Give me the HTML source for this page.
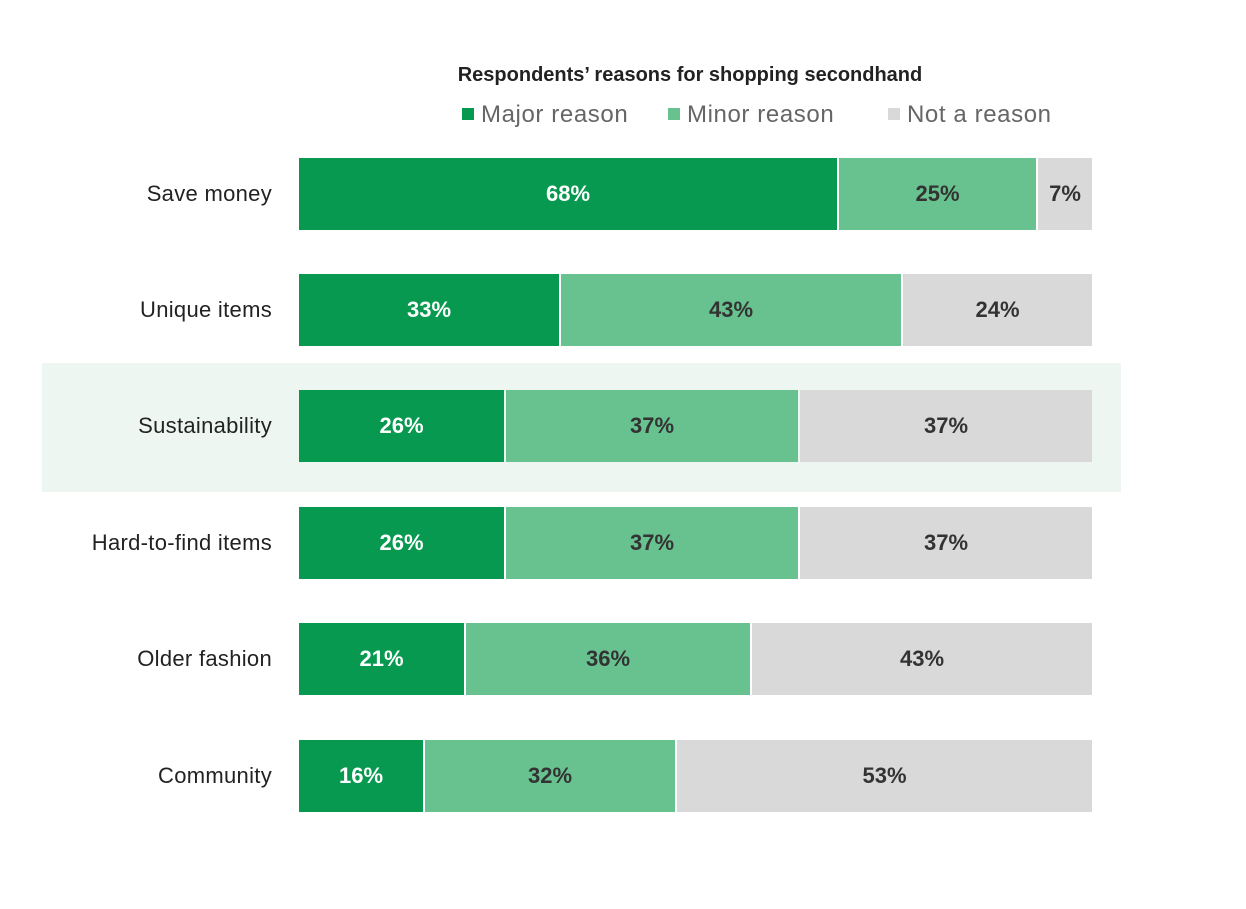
<!DOCTYPE html>
<html><head><meta charset="utf-8"><style>
body{margin:0;width:1246px;height:909px;background:#fff;font-family:"Liberation Sans",sans-serif;position:relative;overflow:hidden}
.a{position:absolute}
.t{left:0;width:1380px;top:64px;text-align:center;font-weight:bold;font-size:20px;color:#222}
.lg{top:101px;font-size:24px;color:#666;white-space:nowrap;letter-spacing:0.6px}
.sq{display:inline-block;width:12px;height:12px;margin-right:7px;vertical-align:2px}
.lab{width:272px;left:0;text-align:right;font-size:22px;color:#222;line-height:72px;letter-spacing:0.3px}
.b{height:72px;line-height:72px;text-align:center;font-weight:bold;font-size:22px;color:#333;box-sizing:border-box}
.m{background:#06994f;color:#fff}.n{background:#68c28f}.x{background:#d9d9d9}
</style></head><body>
<div class="a t">Respondents’ reasons for shopping secondhand</div>
<div class="a lg" style="left:462px"><span class="sq" style="background:#06994f"></span>Major reason</div>
<div class="a lg" style="left:668px"><span class="sq" style="background:#68c28f"></span>Minor reason</div>
<div class="a lg" style="left:888px"><span class="sq" style="background:#d9d9d9"></span>Not a reason</div>
<div class="a" style="left:42px;top:363px;width:1079px;height:129px;background:#eef6f1"></div>

<div class="a lab" style="top:158px">Save money</div>
<div class="a b m" style="top:158px;left:299px;width:538px">68%</div>
<div class="a b n" style="top:158px;left:839px;width:197px">25%</div>
<div class="a b x" style="top:158px;left:1038px;width:54px">7%</div>

<div class="a lab" style="top:274px">Unique items</div>
<div class="a b m" style="top:274px;left:299px;width:260px">33%</div>
<div class="a b n" style="top:274px;left:561px;width:340px">43%</div>
<div class="a b x" style="top:274px;left:903px;width:189px">24%</div>

<div class="a lab" style="top:390px">Sustainability</div>
<div class="a b m" style="top:390px;left:299px;width:205px">26%</div>
<div class="a b n" style="top:390px;left:506px;width:292px">37%</div>
<div class="a b x" style="top:390px;left:800px;width:292px">37%</div>

<div class="a lab" style="top:507px">Hard-to-find items</div>
<div class="a b m" style="top:507px;left:299px;width:205px">26%</div>
<div class="a b n" style="top:507px;left:506px;width:292px">37%</div>
<div class="a b x" style="top:507px;left:800px;width:292px">37%</div>

<div class="a lab" style="top:623px">Older fashion</div>
<div class="a b m" style="top:623px;left:299px;width:165px">21%</div>
<div class="a b n" style="top:623px;left:466px;width:284px">36%</div>
<div class="a b x" style="top:623px;left:752px;width:340px">43%</div>

<div class="a lab" style="top:740px">Community</div>
<div class="a b m" style="top:740px;left:299px;width:124px">16%</div>
<div class="a b n" style="top:740px;left:425px;width:250px">32%</div>
<div class="a b x" style="top:740px;left:677px;width:415px">53%</div>
</body></html>
